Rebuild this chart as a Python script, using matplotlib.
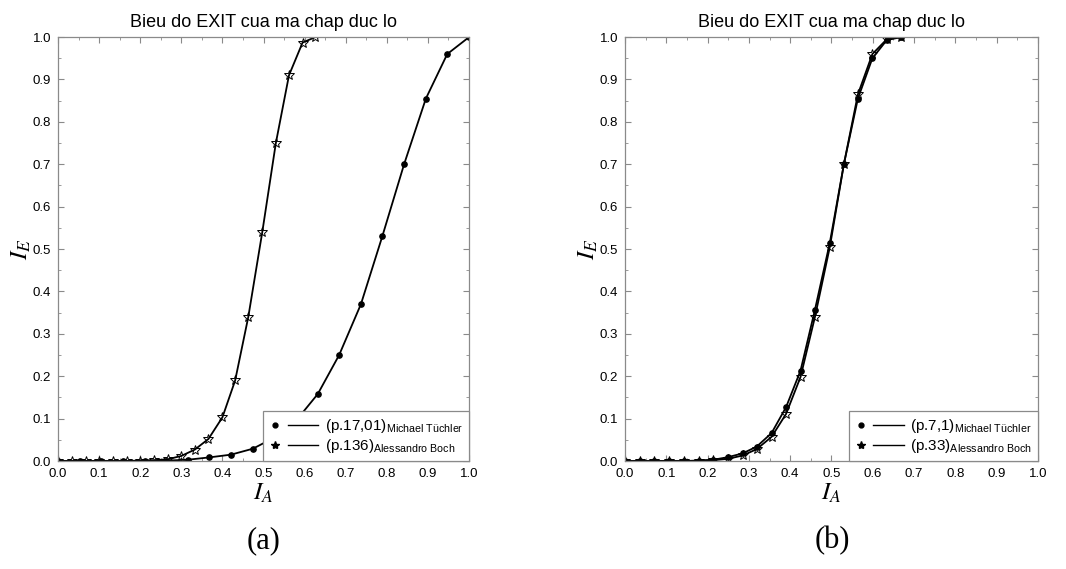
import numpy as np
import matplotlib
matplotlib.use("Agg")
import matplotlib.pyplot as plt
from matplotlib.lines import Line2D
from matplotlib.legend_handler import HandlerBase
from matplotlib.ticker import MultipleLocator, FormatStrFormatter

plt.rcParams['font.family'] = ['Liberation Sans', 'DejaVu Sans']
plt.rcParams['mathtext.fontset'] = 'custom'
plt.rcParams['mathtext.rm'] = 'Liberation Sans'
plt.rcParams['mathtext.it'] = 'Liberation Sans:italic'

title = "Bieu do EXIT cua ma chap duc lo"

# panel (a)
a_tuchler_x = [0.0, 0.053, 0.105, 0.158, 0.211, 0.263, 0.316, 0.368, 0.421, 0.474,
               0.526, 0.579, 0.632, 0.684, 0.737, 0.789, 0.842, 0.895, 0.947, 1.0]
a_tuchler_y = [0.0, 0.0, 0.0, 0.0, 0.0005, 0.001, 0.003, 0.0085, 0.015, 0.029,
               0.055, 0.095, 0.158, 0.25, 0.37, 0.53, 0.70, 0.855, 0.96, 1.0]
a_boch_x = [0.0, 0.033, 0.067, 0.1, 0.133, 0.167, 0.2, 0.233, 0.267, 0.3,
            0.333, 0.366, 0.4, 0.431, 0.463, 0.497, 0.53, 0.562, 0.595, 0.626]
a_boch_y = [0.0, 0.0, 0.0, 0.0, 0.0, 0.0, 0.001, 0.002, 0.004, 0.012,
            0.027, 0.052, 0.103, 0.19, 0.34, 0.54, 0.75, 0.91, 0.987, 1.0]
a_labels = ["(p.17,01)$_{\\mathregular{Michael\\ Tüchler}}$",
            "(p.136)$_{\\mathregular{Alessandro\\ Boch}}$"]

# panel (b)
b_x = [0.0, 0.036, 0.071, 0.107, 0.143, 0.178, 0.214, 0.249, 0.285, 0.319,
       0.355, 0.39, 0.425, 0.46, 0.496, 0.53, 0.564, 0.599, 0.634, 0.669]
b_tuchler_y = [0.0, 0.0, 0.0, 0.0, 0.0, 0.001, 0.003, 0.009, 0.018, 0.034,
               0.066, 0.127, 0.213, 0.357, 0.515, 0.70, 0.855, 0.95, 0.993, 1.0]
b_boch_y = [0.0, 0.0, 0.0, 0.0, 0.0, 0.0005, 0.002, 0.005, 0.013, 0.028,
            0.057, 0.111, 0.198, 0.34, 0.505, 0.70, 0.865, 0.96, 0.995, 1.0]
b_labels = ["(p.7,1)$_{\\mathregular{Michael\\ Tüchler}}$",
            "(p.33)$_{\\mathregular{Alessandro\\ Boch}}$"]


class MarkerThenLine(HandlerBase):
    # marker on the left, short line to its right, like the original legend
    def create_artists(self, legend, orig, xdescent, ydescent, width, height, fontsize, trans):
        y = height / 2 - ydescent
        x0 = -xdescent
        m = Line2D([x0 + 0.12 * width], [y], marker=orig.get_marker(), ls='none',
                   color='k', markersize=orig.get_markersize())
        l = Line2D([x0 + 0.37 * width, x0 + width], [y, y], color='k', lw=1.0)
        m.set_transform(trans)
        l.set_transform(trans)
        return [m, l]


fig = plt.figure(figsize=(10.66, 5.69), dpi=100)
ax1 = fig.add_axes([0.0544, 0.1898, 0.3856, 0.745])
ax2 = fig.add_axes([0.5863, 0.1898, 0.3874, 0.745])

spine_c = '#8a8a8a'

def style(ax):
    ax.set_xlim(0, 1)
    ax.set_ylim(0, 1)
    ax.xaxis.set_major_locator(MultipleLocator(0.1))
    ax.yaxis.set_major_locator(MultipleLocator(0.1))
    ax.xaxis.set_minor_locator(MultipleLocator(0.05))
    ax.yaxis.set_minor_locator(MultipleLocator(0.05))
    ax.tick_params(which='both', direction='in', top=True, right=True,
                   color=spine_c, labelsize=9.5)
    ax.tick_params(axis='x', which='major', pad=5)
    ax.tick_params(axis='y', which='major', pad=5)
    ax.tick_params(which='major', length=4)
    ax.tick_params(which='minor', length=2.5)
    ax.xaxis.set_major_formatter(FormatStrFormatter('%.1f'))
    ax.yaxis.set_major_formatter(FormatStrFormatter('%.1f'))
    for s in ax.spines.values():
        s.set_color(spine_c)
        s.set_linewidth(0.9)
    ax.set_title(title, fontsize=13, pad=7)
    ax.set_xlabel('$I_A$', fontsize=18, math_fontfamily='stix', labelpad=1)
    ax.set_ylabel('$I_E$', fontsize=18, math_fontfamily='stix', labelpad=0)


style(ax1)
style(ax2)

ax1.plot(a_tuchler_x, a_tuchler_y, color='k', lw=1.3, marker='o', markersize=3.8)
ax1.plot(a_boch_x, a_boch_y, color='k', lw=1.3, marker='*', markersize=7,
         markerfacecolor='none', markeredgewidth=0.7)
ax2.plot(b_x, b_tuchler_y, color='k', lw=1.3, marker='o', markersize=3.8)
ax2.plot(b_x, b_boch_y, color='k', lw=1.3, marker='*', markersize=7,
         markerfacecolor='none', markeredgewidth=0.7)

leg_h1 = Line2D([], [], marker='o', markersize=3.5, color='k')
leg_h2 = Line2D([], [], marker='*', markersize=6, color='k')

for ax, labels in ((ax1, a_labels), (ax2, b_labels)):
    leg = ax.legend([leg_h1, leg_h2], labels, loc='lower right', borderaxespad=0,
                    fontsize=11, handlelength=3.2, handletextpad=0.4,
                    borderpad=0.4, labelspacing=0.1, fancybox=False,
                    handler_map={Line2D: MarkerThenLine()})
    leg.get_frame().set_edgecolor(spine_c)
    leg.get_frame().set_linewidth(0.9)
    leg.get_frame().set_alpha(1)

fig.text(0.2477, 0.05, '(a)', fontsize=22, family='Liberation Serif', ha='center', va='center')
fig.text(0.7805, 0.05, '(b)', fontsize=22, family='Liberation Serif', ha='center', va='center')

fig.savefig('out.png', dpi=100)
